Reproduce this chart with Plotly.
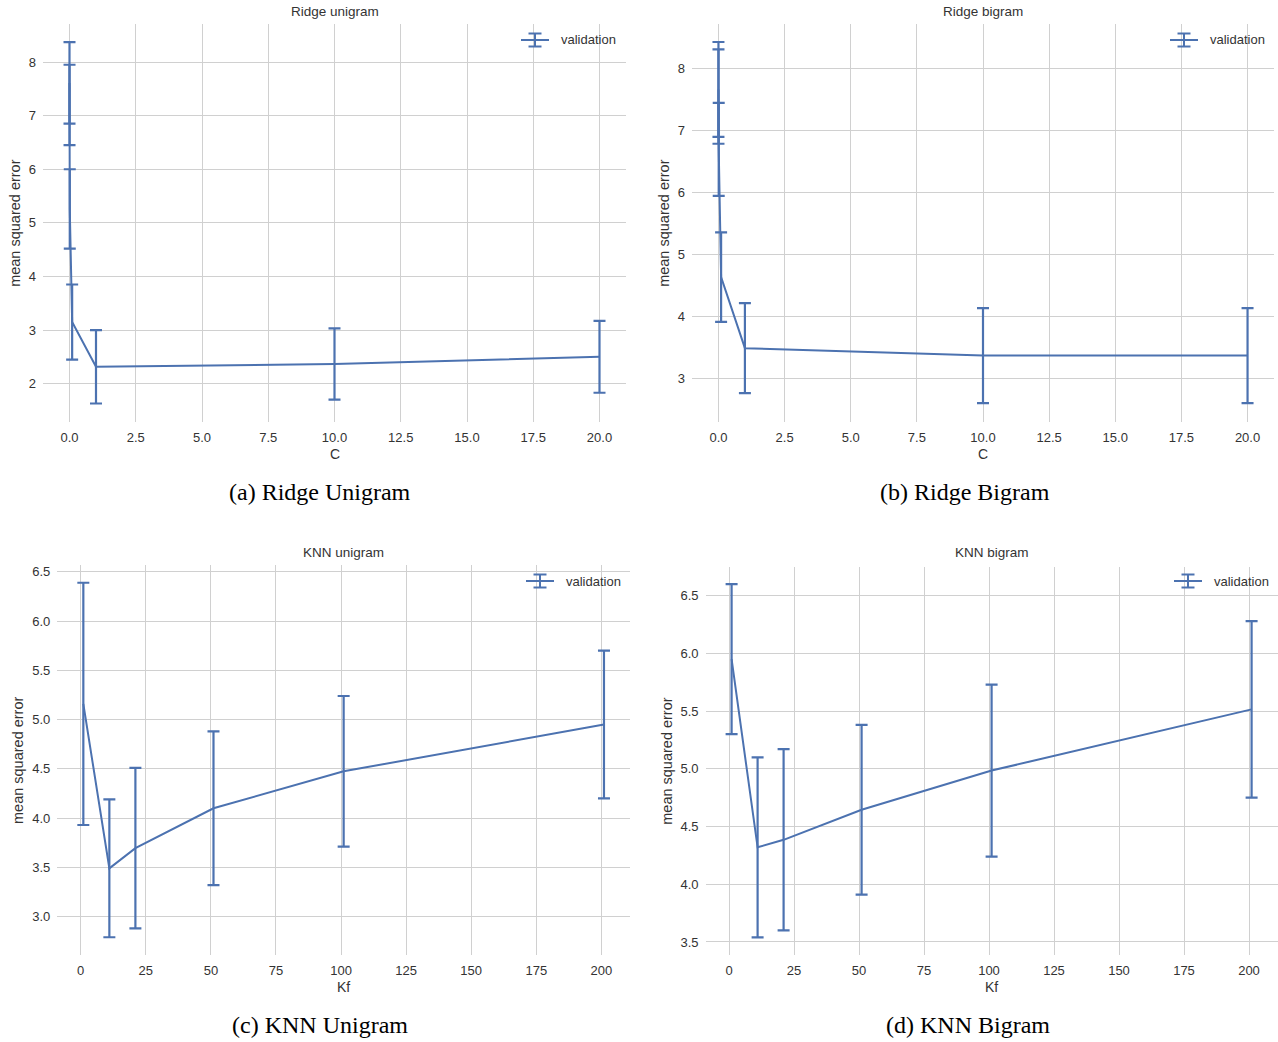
import plotly.graph_objects as go

W, H = 1278, 1042

# ---------------- data ----------------
ridge_C = [0.0001, 0.001, 0.01, 0.1, 1, 10, 20]
ridge_uni_mean = [7.61, 7.20, 5.26, 3.15, 2.315, 2.365, 2.50]
ridge_uni_err = [0.76, 0.75, 0.74, 0.70, 0.685, 0.665, 0.67]
ridge_bi_mean = [7.655, 7.54, 6.69, 4.63, 3.485, 3.365, 3.365]
ridge_bi_err = [0.765, 0.76, 0.75, 0.72, 0.725, 0.765, 0.765]

knn_K = [1, 11, 21, 51, 101, 201]
knn_uni_mean = [5.16, 3.49, 3.695, 4.10, 4.475, 4.95]
knn_uni_err = [1.23, 0.70, 0.815, 0.78, 0.765, 0.75]
knn_bi_mean = [5.95, 4.32, 4.385, 4.645, 4.985, 5.515]
knn_bi_err = [0.65, 0.78, 0.785, 0.735, 0.745, 0.765]

titles = ["Ridge unigram", "Ridge bigram", "KNN unigram", "KNN bigram"]
captions = ["(a) Ridge Unigram", "(b) Ridge Bigram", "(c) KNN Unigram", "(d) KNN Bigram"]
xlabels = ["C", "C", "Kf", "Kf"]
ylabel = "mean squared error"
legend_label = "validation"

ridge_xticks = [0, 2.5, 5, 7.5, 10, 12.5, 15, 17.5, 20]
knn_xticks = [0, 25, 50, 75, 100, 125, 150, 175, 200]

# ---------------- styling ----------------
BLUE = "#4C72B0"
GRID = "#d0d0d0"
TXT = "#333333"
FONT = "Liberation Sans, Arial, sans-serif"
SERIF = "Liberation Serif, Times New Roman, serif"

# pixel boxes (left, right, top, bottom)
boxes = [
    (43, 626, 24, 421.7),
    (692, 1274, 24, 421.7),
    (57.3, 630, 565, 955),
    (705.6, 1277.6, 566.5, 955),
]
title_y = [12, 12, 552, 552]
ylabel_x = [15, 664, 18, 667]
xranges = [[-1.0, 21.0], [-1.0, 21.0], [-9, 211], [-9, 211]]
yranges = [[1.29, 8.71], [2.30, 8.71], [2.61, 6.57], [3.387, 6.753]]
yticks = [
    [2, 3, 4, 5, 6, 7, 8],
    [3, 4, 5, 6, 7, 8],
    [3.0, 3.5, 4.0, 4.5, 5.0, 5.5, 6.0, 6.5],
    [3.5, 4.0, 4.5, 5.0, 5.5, 6.0, 6.5],
]
ytickfmt = [".0f", ".0f", ".1f", ".1f"]
xticksets = [ridge_xticks, ridge_xticks, knn_xticks, knn_xticks]
xtickfmt = [".1f", ".1f", ".0f", ".0f"]

series = [
    (ridge_C, ridge_uni_mean, ridge_uni_err),
    (ridge_C, ridge_bi_mean, ridge_bi_err),
    (knn_K, knn_uni_mean, knn_uni_err),
    (knn_K, knn_bi_mean, knn_bi_err),
]

fig = go.Figure()
layout = dict(
    width=W, height=H,
    margin=dict(l=0, r=0, t=0, b=0),
    paper_bgcolor="white", plot_bgcolor="white",
    showlegend=False,
    font=dict(family=FONT, color=TXT, size=13),
)

annotations = []
shapes = []


def px_x(p):
    return p / W


def px_y(p):
    return 1 - p / H


for i, ((x, m, e), (l, r, t, b)) in enumerate(zip(series, boxes)):
    sfx = "" if i == 0 else str(i + 1)
    fig.add_trace(go.Scatter(
        x=x, y=m, mode="lines",
        line=dict(color=BLUE, width=2),
        error_y=dict(type="data", array=e, visible=True, color=BLUE,
                     thickness=2.2, width=6),
        xaxis="x" + sfx, yaxis="y" + sfx, name=legend_label,
    ))
    layout["xaxis" + sfx] = dict(
        domain=[px_x(l), px_x(r)], range=xranges[i], anchor="y" + sfx,
        tickvals=xticksets[i], tickformat=xtickfmt[i],
        showgrid=True, gridcolor=GRID, gridwidth=1.2, zeroline=False,
        showline=False, ticks="", ticklabelstandoff=6,
        tickfont=dict(size=13, color=TXT, family=FONT),
    )
    layout["yaxis" + sfx] = dict(
        domain=[px_y(b), px_y(t)], range=yranges[i], anchor="x" + sfx,
        tickvals=yticks[i], tickformat=ytickfmt[i],
        showgrid=True, gridcolor=GRID, gridwidth=1.2, zeroline=False,
        showline=False, ticks="", ticklabelstandoff=6,
        tickfont=dict(size=13, color=TXT, family=FONT),
    )
    cx = (l + r) / 2
    cy = (t + b) / 2
    annotations.append(dict(
        x=px_x(cx), y=px_y(title_y[i]), xref="paper", yref="paper",
        text=titles[i], showarrow=False, xanchor="center", yanchor="middle",
        font=dict(size=13.5, color=TXT, family=FONT),
    ))
    annotations.append(dict(
        x=px_x(cx), y=px_y(b + 32), xref="paper", yref="paper",
        text=xlabels[i], showarrow=False, xanchor="center", yanchor="middle",
        font=dict(size=14, color=TXT, family=FONT),
    ))
    annotations.append(dict(
        x=px_x(ylabel_x[i]), y=px_y(cy), xref="paper", yref="paper",
        text=ylabel, showarrow=False, textangle=-90,
        xanchor="center", yanchor="middle",
        font=dict(size=14.5, color=TXT, family=FONT),
    ))

# captions
cap_pos = [(320, 492), (965, 492), (320, 1025), (968, 1025)]
for c, (cx, cy) in zip(captions, cap_pos):
    annotations.append(dict(
        x=px_x(cx), y=px_y(cy), xref="paper", yref="paper",
        text=c, showarrow=False, xanchor="center", yanchor="middle",
        font=dict(size=24, color="black", family=SERIF),
    ))

# legends (icon + text), positions in px
leg_pos = [(535, 40), (1184, 40), (540, 581), (1188, 581)]
for (ix, iy) in leg_pos:
    ln = dict(color=BLUE, width=2)
    shapes.append(dict(type="line", xref="paper", yref="paper",
                       x0=px_x(ix - 14), x1=px_x(ix + 14), y0=px_y(iy), y1=px_y(iy), line=ln))
    shapes.append(dict(type="line", xref="paper", yref="paper",
                       x0=px_x(ix), x1=px_x(ix), y0=px_y(iy - 6.5), y1=px_y(iy + 6.5), line=ln))
    for yy in (iy - 6.5, iy + 6.5):
        shapes.append(dict(type="line", xref="paper", yref="paper",
                           x0=px_x(ix - 6.5), x1=px_x(ix + 6.5), y0=px_y(yy), y1=px_y(yy), line=ln))
    annotations.append(dict(
        x=px_x(ix + 24), y=px_y(iy), xref="paper", yref="paper",
        text=legend_label, showarrow=False, xanchor="left", yanchor="middle",
        font=dict(size=13, color=TXT, family=FONT),
    ))

layout["annotations"] = annotations
layout["shapes"] = shapes
fig.update_layout(**layout)
fig.write_html(
    "out.html",
    config={"displayModeBar": False},
    post_script="document.body.style.margin='0';document.body.style.padding='0';"
                "document.body.style.overflow='hidden';",
)
